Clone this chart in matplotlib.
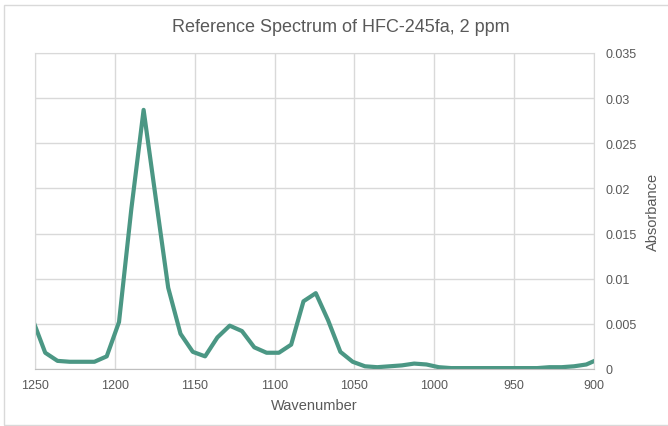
import matplotlib
matplotlib.use("Agg")
import matplotlib.pyplot as plt
from matplotlib.patches import Rectangle

# wavenumber (cm-1) and absorbance
wavenumber = [1251.3, 1243.6, 1235.9, 1228.2, 1220.5, 1212.8, 1205.1, 1197.4,
              1189.7, 1182.0, 1174.3, 1166.6, 1158.9, 1151.2, 1143.5, 1135.8,
              1128.1, 1120.4, 1112.7, 1105.0, 1097.3, 1089.6, 1081.9, 1074.2,
              1066.5, 1058.8, 1051.1, 1043.4, 1035.7, 1028.0, 1020.3, 1012.6,
              1004.9, 997.2, 989.5, 981.8, 974.1, 966.4, 958.7, 951.0,
              943.3, 935.6, 927.9, 920.2, 912.5, 904.8, 897.1]
absorbance = [0.0054, 0.0018, 0.0009, 0.0008, 0.0008, 0.0008, 0.0014, 0.0052,
              0.0177, 0.0287, 0.0188, 0.0090, 0.0039, 0.0019, 0.0014, 0.0035,
              0.0048, 0.0042, 0.0024, 0.0018, 0.0018, 0.0027, 0.0075, 0.0084,
              0.0054, 0.0019, 0.0008, 0.0003, 0.0002, 0.0003, 0.0004, 0.0006,
              0.0005, 0.0002, 0.0001, 0.0001, 0.0001, 0.0001, 0.0001, 0.0001,
              0.0001, 0.0001, 0.0002, 0.0002, 0.0003, 0.0005, 0.0011]

x_ticks = [1250, 1200, 1150, 1100, 1050, 1000, 950, 900]
y_ticks = [0, 0.005, 0.01, 0.015, 0.02, 0.025, 0.03, 0.035]
y_labels = ["0", "0.005", "0.01", "0.015", "0.02", "0.025", "0.03", "0.035"]

plt.rcParams['font.family'] = ['Liberation Sans', 'DejaVu Sans']
text_color = '#595959'
grid_color = '#d9d9d9'

fig = plt.figure(figsize=(6.68, 4.27), dpi=100)
fig.patches.append(Rectangle((4 / 668, 0.002), 1.2, 1 - 7 / 427, transform=fig.transFigure,
                             fill=False, edgecolor=grid_color, linewidth=1))
ax = fig.add_axes([35 / 668, 1 - 370 / 427, (594 - 35) / 668, (370 - 54) / 427])

ax.plot(wavenumber, absorbance, color='#4b9784', linewidth=3, solid_joinstyle='round')

ax.set_xlim(1250, 900)
ax.set_ylim(0, 0.035)
ax.set_xticks(x_ticks)
ax.set_xticklabels([str(t) for t in x_ticks])
ax.set_yticks(y_ticks)
ax.set_yticklabels(y_labels)
ax.yaxis.tick_right()
ax.yaxis.set_label_position('right')
ax.tick_params(axis='both', length=0, labelsize=9, colors=text_color)
ax.tick_params(axis='x', pad=7)
ax.tick_params(axis='y', pad=8)

ax.grid(True, color=grid_color, linewidth=1)
ax.set_axisbelow(True)
for side in ['left', 'right', 'top']:
    ax.spines[side].set_color(grid_color)
ax.spines['bottom'].set_color('#bfbfbf')

ax.set_xlabel('Wavenumber', fontsize=10.5, color=text_color, labelpad=5)
ax.set_ylabel('Absorbance', fontsize=10.5, color=text_color, labelpad=7)
fig.text(341 / 668, 1 - 28 / 427, 'Reference Spectrum of HFC-245fa, 2 ppm',
         fontsize=13, color=text_color, ha='center', va='center')

fig.savefig('out.png', dpi=100)
